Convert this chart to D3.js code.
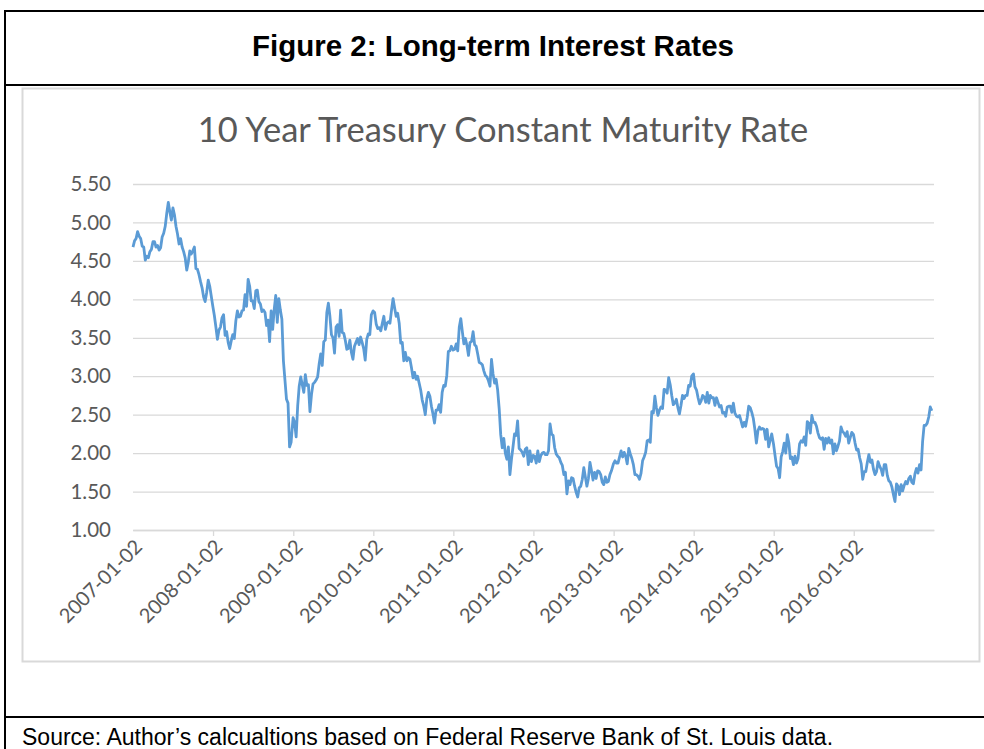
<!DOCTYPE html>
<html>
<head>
<meta charset="utf-8">
<script src="https://cdn.jsdelivr.net/npm/d3@7/dist/d3.min.js"></script>
<style>
  html, body { margin: 0; padding: 0; background: #fff; }
  svg { display: block; }
</style>
</head>
<body>
<svg id="chart" width="984" height="749"></svg>
<script>
// ---- Data: weekly readings of the 10-year Treasury constant maturity rate (%) ----
const r2007 = [4.68,4.76,4.79,4.88,4.82,4.79,4.69,4.68,4.51,4.56,4.54,4.62,4.65,4.75,4.75,4.68,4.70,4.64,4.67,4.81,4.86,4.95,5.12,5.26,5.14,5.03,5.19,5.10,4.95,4.85,4.72,4.79,4.68,4.62,4.54,4.38,4.48,4.63,4.59,4.63,4.68,4.40,4.39,4.32,4.23,4.15,4.03,3.97,4.09,4.25,4.17,4.04];
const r2008 = [3.91,3.79,3.64,3.48,3.60,3.64,3.76,3.80,3.53,3.58,3.44,3.36,3.46,3.54,3.49,3.72,3.85,3.77,3.78,3.85,3.86,4.06,3.91,4.26,4.17,3.98,3.98,3.88,4.11,4.12,3.97,3.94,3.84,3.86,3.83,3.66,3.73,3.45,3.85,3.61,3.87,4.05,3.70,4.01,3.86,3.74,3.20,2.95,2.70,2.65,2.08,2.14];
const r2009 = [2.46,2.40,2.21,2.61,2.87,2.99,2.89,2.79,3.02,2.88,2.89,2.54,2.76,2.90,2.92,2.95,2.99,3.16,3.29,3.14,3.45,3.47,3.83,3.95,3.78,3.54,3.50,3.30,3.64,3.67,3.52,3.86,3.57,3.56,3.47,3.35,3.36,3.47,3.31,3.22,3.39,3.44,3.49,3.41,3.51,3.44,3.36,3.21,3.48,3.55,3.54,3.80];
const r2010 = [3.85,3.83,3.68,3.62,3.63,3.59,3.69,3.78,3.61,3.69,3.71,3.69,3.86,4.01,3.89,3.78,3.82,3.69,3.43,3.44,3.20,3.31,3.20,3.24,3.22,3.11,2.98,3.05,2.96,3.00,2.91,2.82,2.69,2.61,2.50,2.71,2.79,2.74,2.61,2.51,2.39,2.56,2.56,2.63,2.53,2.79,2.88,2.87,3.01,3.32,3.33,3.39];
const r2011 = [3.34,3.35,3.42,3.33,3.64,3.75,3.58,3.42,3.49,3.40,3.27,3.44,3.45,3.58,3.41,3.39,3.29,3.18,3.17,3.15,3.07,3.01,2.99,2.94,2.87,3.22,3.03,2.91,2.96,2.82,2.58,2.24,2.07,2.19,2.00,1.92,2.08,1.72,1.92,2.08,2.25,2.23,2.42,2.06,2.04,2.01,1.96,2.05,2.07,1.85,2.03,1.89];
const r2012 = [1.97,1.96,1.87,2.03,1.89,1.97,2.00,2.01,1.98,1.98,2.03,2.38,2.25,2.23,2.07,1.99,1.96,1.94,1.88,1.84,1.72,1.75,1.47,1.64,1.59,1.68,1.67,1.57,1.49,1.43,1.55,1.57,1.66,1.81,1.69,1.57,1.67,1.88,1.77,1.65,1.75,1.67,1.77,1.76,1.72,1.62,1.59,1.69,1.62,1.63,1.72,1.77];
const r2013 = [1.86,1.90,1.87,1.87,1.95,2.03,1.95,2.01,1.96,1.86,2.06,1.99,1.93,1.85,1.72,1.72,1.70,1.66,1.74,1.90,1.95,2.01,2.16,2.17,2.14,2.54,2.52,2.74,2.59,2.49,2.56,2.60,2.58,2.83,2.82,2.78,2.98,2.89,2.75,2.63,2.65,2.70,2.59,2.51,2.62,2.75,2.71,2.75,2.75,2.88,2.87,3.00];
const r2014 = [3.03,2.86,2.82,2.72,2.64,2.68,2.75,2.73,2.66,2.79,2.65,2.75,2.72,2.72,2.62,2.72,2.66,2.60,2.62,2.52,2.53,2.48,2.60,2.61,2.61,2.53,2.65,2.52,2.48,2.47,2.49,2.42,2.34,2.40,2.35,2.46,2.61,2.59,2.53,2.45,2.31,2.13,2.29,2.34,2.31,2.32,2.31,2.18,2.31,2.08,2.17,2.25];
const r2015 = [2.12,1.97,1.83,1.80,1.68,1.95,2.02,2.13,2.00,2.24,2.13,1.93,1.95,1.85,1.96,1.87,1.93,2.12,2.16,2.14,2.21,2.10,2.41,2.39,2.26,2.49,2.40,2.40,2.35,2.26,2.20,2.18,2.20,2.05,2.19,2.13,2.20,2.13,2.17,1.99,2.12,2.03,2.09,2.16,2.34,2.28,2.26,2.22,2.28,2.13,2.20,2.27];
const r2016 = [2.24,2.13,2.04,2.05,1.94,1.86,1.66,1.76,1.76,1.88,1.98,1.88,1.91,1.79,1.72,1.76,1.89,1.83,1.79,1.71,1.85,1.85,1.71,1.64,1.62,1.56,1.46,1.37,1.60,1.57,1.46,1.59,1.51,1.58,1.63,1.60,1.67,1.70,1.62,1.60,1.73,1.80,1.74,1.85,1.78,2.15,2.36,2.36,2.39,2.47,2.60,2.55];

const years = [2007,2008,2009,2010,2011,2012,2013,2014,2015,2016];
const seriesByYear = [r2007,r2008,r2009,r2010,r2011,r2012,r2013,r2014,r2015,r2016];
const xTickLabels = ["2007-01-02","2008-01-02","2009-01-02","2010-01-02","2011-01-02","2012-01-02","2013-01-02","2014-01-02","2015-01-02","2016-01-02"];
const yTickValues = [1.00,1.50,2.00,2.50,3.00,3.50,4.00,4.50,5.00,5.50];

const figureTitle = "Figure 2: Long-term Interest Rates";
const chartTitle = "10 Year Treasury Constant Maturity Rate";
const sourceNote = "Source: Author\u2019s calcualtions based on Federal Reserve Bank of St. Louis data.";

// ---- Build the series (weekly observations, starting at first trading day of each year) ----
const data = [];
years.forEach((yr, k) => {
  const start = yr === 2007 ? new Date(2007, 0, 2) : new Date(yr, 0, 1);
  seriesByYear[k].forEach((v, i) => data.push({ date: d3.timeDay.offset(start, 7 * i), value: v }));
});

const svg = d3.select("#chart");
const W = 984, H = 749;
const grid = "#d9d9d9", textGray = "#595959", lineBlue = "#5b9bd5";

svg.append("rect").attr("width", W).attr("height", H).attr("fill", "#fff");

// ---- Outer table frame ----
const frame = svg.append("g").attr("stroke", "#000").attr("stroke-width", 2).attr("fill", "none");
frame.append("line").attr("x1", 4).attr("x2", W).attr("y1", 11).attr("y2", 11);
frame.append("line").attr("x1", 4).attr("x2", W).attr("y1", 85).attr("y2", 85);
frame.append("line").attr("x1", 4).attr("x2", W).attr("y1", 717).attr("y2", 717);
frame.append("line").attr("x1", 5).attr("x2", 5).attr("y1", 10).attr("y2", H);

svg.append("text")
  .attr("x", 493).attr("y", 56)
  .attr("text-anchor", "middle")
  .attr("font-family", "'Liberation Sans', Arial, sans-serif")
  .attr("font-weight", "bold").attr("font-size", 29.5)
  .attr("fill", "#000").text(figureTitle);

svg.append("text")
  .attr("x", 22).attr("y", 745)
  .attr("font-family", "'Liberation Sans', Arial, sans-serif")
  .attr("font-size", 23).attr("fill", "#000").text(sourceNote);

// ---- Chart panel ----
svg.append("rect")
  .attr("x", 22.5).attr("y", 88.5).attr("width", 957).attr("height", 573)
  .attr("fill", "#fff").attr("stroke", grid).attr("stroke-width", 2);

svg.append("text")
  .attr("x", 503).attr("y", 142)
  .attr("text-anchor", "middle")
  .attr("font-family", "Lato, 'Open Sans', sans-serif")
  .attr("font-size", 34.5).attr("fill", textGray).text(chartTitle);

// ---- Scales ----
const x = d3.scaleTime()
  .domain([new Date(2007, 0, 2), new Date(2017, 0, 2)])
  .range([133, 934]);
const y = d3.scaleLinear().domain([1, 5.5]).range([530, 184]);

// Gridlines + y labels
const yAxis = d3.axisLeft(y).tickValues(yTickValues).tickFormat(d3.format(".2f"))
  .tickSize(-(934 - 133)).tickPadding(22);
const gy = svg.append("g").attr("transform", "translate(133,0)").call(yAxis);
gy.select(".domain").remove();
gy.selectAll(".tick line").attr("stroke", grid).attr("stroke-width", 1.3);
gy.selectAll(".tick text")
  .attr("font-family", "Lato, 'Open Sans', sans-serif")
  .attr("font-size", 20.5).attr("fill", textGray);

// X axis
const tickDates = xTickLabels.map(d3.timeParse("%Y-%m-%d"));
const xAxis = d3.axisBottom(x).tickValues(tickDates).tickFormat(d3.timeFormat("%Y-%m-%d"))
  .tickSizeOuter(0).tickSizeInner(6).tickPadding(4);
const gx = svg.append("g").attr("transform", "translate(0,530)").call(xAxis);
gx.select(".domain").attr("stroke", grid).attr("stroke-width", 1.3);
gx.selectAll(".tick line").attr("stroke", grid).attr("stroke-width", 1.3)
  .attr("opacity", (d, i) => i === 0 ? 0 : 1);
gx.selectAll(".tick text")
  .attr("font-family", "Lato, 'Open Sans', sans-serif")
  .attr("font-size", 20).attr("fill", textGray)
  .attr("text-anchor", "end")
  .attr("dx", 0).attr("dy", 0)
  .attr("transform", "translate(3,11) rotate(-45)");

// ---- Line ----
const line = d3.line().x(d => x(d.date)).y(d => y(d.value));
svg.append("path").datum(data)
  .attr("fill", "none").attr("stroke", lineBlue)
  .attr("stroke-width", 2.8).attr("stroke-linejoin", "round")
  .attr("d", line);
</script>
</body>
</html>
